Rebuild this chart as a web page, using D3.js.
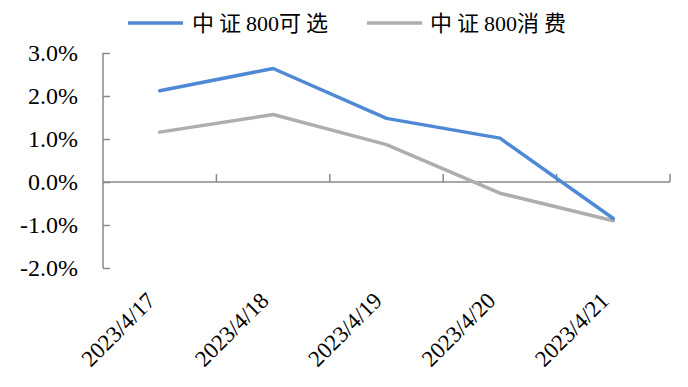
<!DOCTYPE html>
<html>
<head>
<meta charset="utf-8">
<script src="https://cdn.jsdelivr.net/npm/d3@7/dist/d3.min.js"></script>
<style>
  html, body { margin: 0; padding: 0; background: #fff; }
  svg { display: block; }
</style>
</head>
<body>
<script>
const categories = ["2023/4/17", "2023/4/18", "2023/4/19", "2023/4/20", "2023/4/21"];
const seriesNames = ["中证800可选", "中证800消费"];
const seriesOptional = [2.12, 2.64, 1.48, 1.02, -0.85];
const seriesConsumer = [1.16, 1.57, 0.87, -0.26, -0.90];
const yTicks = [3, 2, 1, 0, -1, -2];
const colors = ["#4F89D6", "#AEAEAE"];

const FONT = "'Liberation Serif', 'Times New Roman', 'Noto Sans CJK SC', serif";
const W = 688, H = 387;
const svg = d3.select("body").append("svg").attr("width", W).attr("height", H);

const x = d3.scaleBand().domain(categories).range([103, 670]).padding(0);
const y = d3.scaleLinear().domain([-2, 3]).range([268, 53]);
const axisColor = "#898989";

// Y axis
const yAxis = d3.axisLeft(y).tickValues(yTicks).tickSize(-7).tickPadding(32)
  .tickFormat(d => d.toFixed(1) + "%");
const gy = svg.append("g").attr("transform", `translate(${x.range()[0]},0)`).call(yAxis);
gy.select(".domain").attr("stroke", axisColor).attr("stroke-width", 1.5).attr("d", `M0,${y(3)}V${y(-2)}`);
gy.selectAll(".tick line").attr("stroke", axisColor).attr("stroke-width", 1.5);
gy.selectAll(".tick text").style("font-size", "24px").style("font-family", FONT).attr("fill", "#000").attr("dx", 7);

// X axis at zero
const gx = svg.append("g").attr("transform", `translate(0,${y(0)})`);
gx.append("line").attr("x1", x.range()[0]).attr("x2", x.range()[1]).attr("y1", 0).attr("y2", 0)
  .attr("stroke", axisColor).attr("stroke-width", 1.5);
const boundaries = categories.map(c => x(c) + x.bandwidth());
gx.selectAll("line.tk").data(boundaries).enter().append("line").attr("class", "tk")
  .attr("x1", d => d).attr("x2", d => d).attr("y1", 0).attr("y2", -8)
  .attr("stroke", axisColor).attr("stroke-width", 1.5);

// X labels
svg.append("g").selectAll("text").data(categories).enter().append("text")
  .attr("transform", d => `translate(${x(d) + x.bandwidth() / 2 - 3},302) rotate(-45)`)
  .attr("text-anchor", "end")
  .style("font-size", "23px").style("font-family", FONT)
  .text(d => d);

// Lines
const line = d3.line().x((d, i) => x(categories[i]) + x.bandwidth() / 2).y(d => y(d));
[seriesConsumer, seriesOptional].forEach((s, k) => {
  const i = k === 0 ? 1 : 0;
  svg.append("path").datum(s).attr("d", line).attr("fill", "none")
    .attr("stroke", colors[i]).attr("stroke-width", 3.5).attr("stroke-linejoin", "round").attr("stroke-linecap", "round");
});

// Legend
const legendItems = [{x0: 128, x1: 183, tx: 192}, {x0: 367, x1: 422, tx: 430}];
legendItems.forEach((it, i) => {
  svg.append("line").attr("x1", it.x0).attr("x2", it.x1).attr("y1", 23).attr("y2", 23)
    .attr("stroke", colors[i]).attr("stroke-width", 3.5);
  const t = svg.append("text").attr("x", it.tx).attr("y", 31)
    .style("font-size", "22px").style("font-family", FONT);
  Array.from(seriesNames[i]).forEach(ch => {
    t.append("tspan").attr("letter-spacing", /[0-9]/.test(ch) ? 0 : 5).text(ch);
  });
});
</script>
</body>
</html>
